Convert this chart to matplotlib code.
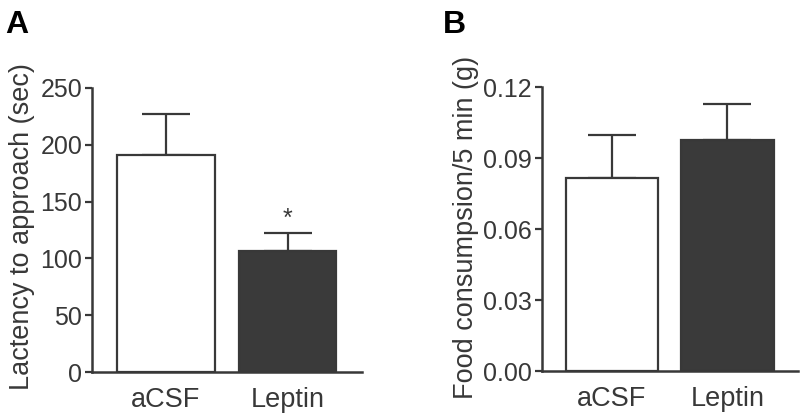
import matplotlib
matplotlib.use('Agg')
import matplotlib.pyplot as plt

# data
groups = ['aCSF', 'Leptin']
latency = [191, 106.5]
latency_sem = [36, 16]
food = [0.0818, 0.0978]
food_sem = [0.0179, 0.0152]

bar_colors = ['white', '#3a3a3a']
ink = '#383838'

plt.rcParams['font.family'] = ['Liberation Sans', 'DejaVu Sans']
plt.rcParams['text.color'] = ink
plt.rcParams['axes.labelcolor'] = ink
plt.rcParams['xtick.color'] = ink
plt.rcParams['ytick.color'] = ink

fig = plt.figure(figsize=(8, 4.15), dpi=100)
axA = fig.add_axes([0.115, 0.1036, 0.3375, 0.6844])
axB = fig.add_axes([0.677, 0.106, 0.3205, 0.6836])


def draw_panel(ax, vals, errs, ylim, yticks, ylabel, fmt):
    x = list(range(len(groups)))
    ax.bar(x, vals, width=0.8, color=bar_colors, edgecolor=ink, linewidth=1.6, zorder=2)
    ax.errorbar(x, vals, yerr=[[0] * len(errs), errs], fmt='none', ecolor=ink,
                elinewidth=1.6, capsize=17, capthick=1.6, zorder=1)
    ax.set_xlim(-0.607, 1.61)
    ax.set_ylim(*ylim)
    ax.set_yticks(yticks)
    ax.set_yticklabels([fmt.format(t) for t in yticks])
    ax.set_xticks(x)
    ax.set_xticklabels(groups)
    for s in ['top', 'right']:
        ax.spines[s].set_visible(False)
    for s in ['left', 'bottom']:
        ax.spines[s].set_linewidth(1.8)
        ax.spines[s].set_color(ink)
    ax.tick_params(axis='y', length=5, width=1.6, pad=2, labelsize=18)
    ax.tick_params(axis='x', length=0, pad=11, labelsize=19.5)
    ax.set_ylabel(ylabel, fontsize=19.5)
    ax.patch.set_alpha(0)


draw_panel(axA, latency, latency_sem, (0, 250), [0, 50, 100, 150, 200, 250],
           'Lactency to approach (sec)', '{:g}')
axA.yaxis.set_label_coords(-0.21, 0.512)
axA.text(1, 135, '*', ha='center', va='center', fontsize=18)

draw_panel(axB, food, food_sem, (0, 0.12), [0, 0.03, 0.06, 0.09, 0.12],
           'Food consumpsion/5 min (g)', '{:.2f}')
axB.yaxis.set_label_coords(-0.246, 0.506)

fig.text(0.006, 1 - 33 / 415, 'A', fontsize=23, fontweight='bold', color='black', va='baseline')
fig.text(0.553, 1 - 33 / 415, 'B', fontsize=23, fontweight='bold', color='black', va='baseline')

fig.savefig('out.png', dpi=100)
